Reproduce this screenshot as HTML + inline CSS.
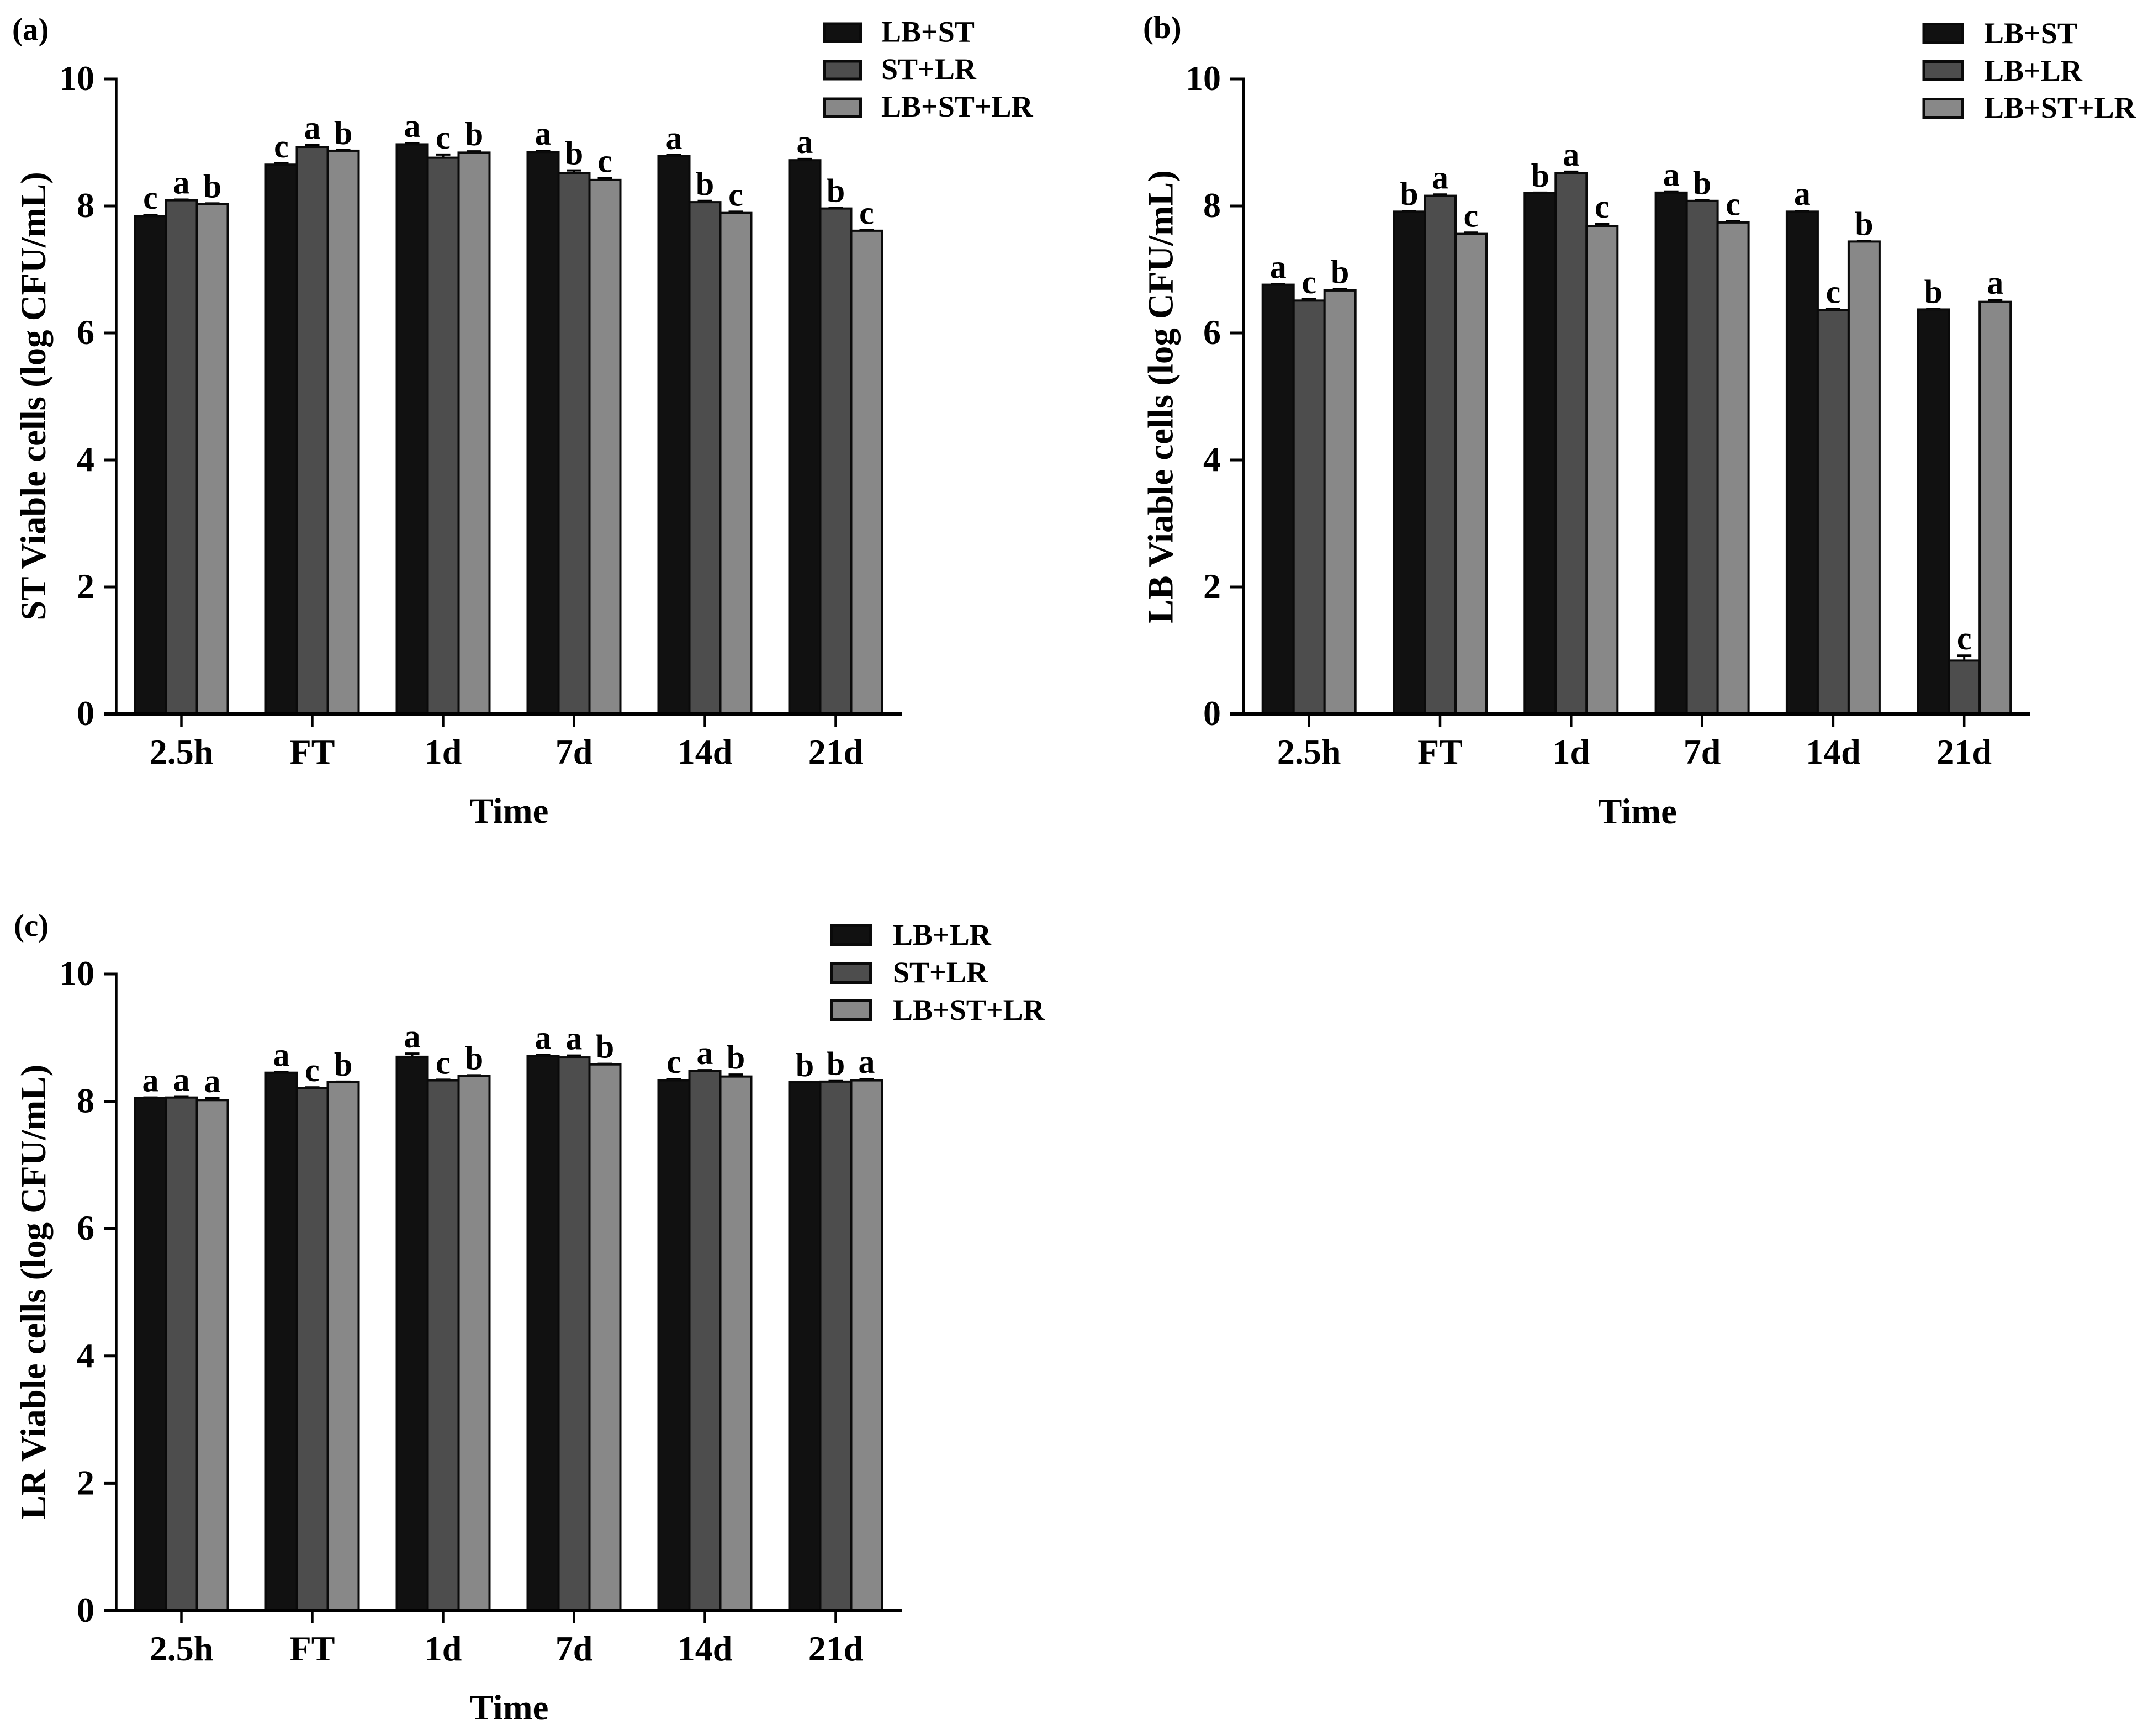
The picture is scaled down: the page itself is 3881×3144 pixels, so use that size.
<!DOCTYPE html>
<html lang="en">
<head>
<meta charset="utf-8">
<title>Viable cell counts over time</title>
<style>
html,body{margin:0;padding:0;background:#fff;}
svg{display:block;}
text{font-family:"Liberation Serif",serif;font-weight:bold;fill:#000;}
.panel-tag{font-size:57px;}
.axis-title{font-size:64.8px;text-anchor:middle;}
.legend-text{font-size:54px;}
.tick-text{font-size:64px;}
.sig{font-size:60px;text-anchor:middle;}
.sw{stroke:#0a0a0a;stroke-width:5;}
</style>
</head>
<body>
<svg id="figure" xmlns="http://www.w3.org/2000/svg" width="3881" height="3144" viewBox="0 0 3881 3144">
  <rect x="0" y="0" width="3881" height="3144" fill="#fff"/>

  <g id="panel-a">
    <text class="panel-tag" x="22" y="72">(a)</text>
    <text class="axis-title" transform="translate(82 717.5) rotate(-90)">ST Viable cells (log CFU/mL)</text>
    <text class="axis-title" x="922" y="1490">Time</text>
    <g>
      <rect class="sw" x="1493.5" y="43" width="65" height="32" fill="#111"/>
      <text class="legend-text" x="1596" y="75.5">LB+ST</text>
      <rect class="sw" x="1493.5" y="111" width="65" height="32" fill="#4d4d4d"/>
      <text class="legend-text" x="1596" y="143">ST+LR</text>
      <rect class="sw" x="1493.5" y="179" width="65" height="32" fill="#888"/>
      <text class="legend-text" x="1596" y="211">LB+ST+LR</text>
    </g>
  </g>

  <g id="panel-b">
    <text class="panel-tag" x="2070" y="69">(b)</text>
    <text class="axis-title" transform="translate(2123.5 718.5) rotate(-90)">LB Viable cells (log CFU/mL)</text>
    <text class="axis-title" x="2965.5" y="1491">Time</text>
    <g>
      <rect class="sw" x="3484" y="43.5" width="69.5" height="33" fill="#111"/>
      <text class="legend-text" x="3593" y="78">LB+ST</text>
      <rect class="sw" x="3484" y="111.5" width="69.5" height="33" fill="#4d4d4d"/>
      <text class="legend-text" x="3593" y="146">LB+LR</text>
      <rect class="sw" x="3484" y="179.5" width="69.5" height="33" fill="#888"/>
      <text class="legend-text" x="3593" y="213">LB+ST+LR</text>
    </g>
  </g>

  <g id="panel-c">
    <text class="panel-tag" x="25" y="1695">(c)</text>
    <text class="axis-title" transform="translate(82 2340) rotate(-90)">LR Viable cells (log CFU/mL)</text>
    <text class="axis-title" x="922" y="3114">Time</text>
    <g>
      <rect class="sw" x="1506.5" y="1676.5" width="70" height="34" fill="#111"/>
      <text class="legend-text" x="1617" y="1711">LB+LR</text>
      <rect class="sw" x="1506.5" y="1744.5" width="70" height="35" fill="#4d4d4d"/>
      <text class="legend-text" x="1617" y="1779">ST+LR</text>
      <rect class="sw" x="1506.5" y="1812.5" width="70" height="34" fill="#888"/>
      <text class="legend-text" x="1617" y="1847">LB+ST+LR</text>
    </g>
  </g>
</svg>

<script>
const categories = ['2.5h', 'FT', '1d', '7d', '14d', '21d'];
const yTickValues = [0, 2, 4, 6, 8, 10];

const seriesColors = ['#111111', '#4d4d4d', '#888888'];

const panelASeries1 = [7.84, 8.65, 8.97, 8.85, 8.79, 8.72];
const panelASeries2 = [8.09, 8.93, 8.76, 8.52, 8.06, 7.96];
const panelASeries3 = [8.03, 8.87, 8.84, 8.41, 7.89, 7.61];
const panelAErr1 = [0.02, 0.02, 0.02, 0.02, 0.01, 0.02];
const panelAErr2 = [0.01, 0.03, 0.05, 0.04, 0.02, 0.01];
const panelAErr3 = [0.01, 0.01, 0.02, 0.03, 0.02, 0.01];
const panelASig1 = ['c', 'c', 'a', 'a', 'a', 'a'];
const panelASig2 = ['a', 'a', 'c', 'b', 'b', 'b'];
const panelASig3 = ['b', 'b', 'b', 'c', 'c', 'c'];

const panelBSeries1 = [6.76, 7.91, 8.20, 8.21, 7.91, 6.37];
const panelBSeries2 = [6.51, 8.16, 8.52, 8.08, 6.36, 0.84];
const panelBSeries3 = [6.67, 7.56, 7.68, 7.74, 7.44, 6.49];
const panelBErr1 = [0.01, 0.01, 0.01, 0.01, 0.01, 0.01];
const panelBErr2 = [0.02, 0.02, 0.02, 0.01, 0.02, 0.08];
const panelBErr3 = [0.02, 0.02, 0.04, 0.02, 0.01, 0.03];
const panelBSig1 = ['a', 'b', 'b', 'a', 'a', 'b'];
const panelBSig2 = ['c', 'a', 'a', 'b', 'c', 'c'];
const panelBSig3 = ['b', 'c', 'c', 'c', 'b', 'a'];

const panelCSeries1 = [8.05, 8.45, 8.70, 8.71, 8.33, 8.30];
const panelCSeries2 = [8.06, 8.21, 8.33, 8.69, 8.48, 8.31];
const panelCSeries3 = [8.02, 8.30, 8.40, 8.58, 8.39, 8.33];
const panelCErr1 = [0.01, 0.01, 0.05, 0.02, 0.02, 0.00];
const panelCErr2 = [0.01, 0.01, 0.01, 0.03, 0.01, 0.01];
const panelCErr3 = [0.03, 0.01, 0.01, 0.01, 0.03, 0.02];
const panelCSig1 = ['a', 'a', 'a', 'a', 'c', 'b'];
const panelCSig2 = ['a', 'c', 'c', 'a', 'a', 'b'];
const panelCSig3 = ['a', 'b', 'b', 'b', 'b', 'a'];

const SVG_NS = 'http://www.w3.org/2000/svg';

function makeLine(parent, x1, y1, x2, y2, width) {
  const el = document.createElementNS(SVG_NS, 'line');
  el.setAttribute('x1', x1);
  el.setAttribute('y1', y1);
  el.setAttribute('x2', x2);
  el.setAttribute('y2', y2);
  el.setAttribute('stroke', '#000');
  el.setAttribute('stroke-width', width);
  parent.appendChild(el);
  return el;
}

function drawPanel(id, layout, seriesList, errList, sigList) {
  const root = document.getElementById(id);
  const yScale = v => layout.y0 - v * (layout.y0 - layout.y10) / 10;
  const xScale = i => layout.firstX + i * layout.pitch;
  const barWidth = 56;

  seriesList.forEach((values, s) => {
    values.forEach((v, i) => {
      const left = xScale(i) + (s - 1.5) * barWidth;
      const top = yScale(v);
      const cx = left + barWidth / 2;

      const errTop = yScale(v + errList[s][i]);
      const stem = makeLine(root, cx, top, cx, errTop, 4);
      
      
      const cap = makeLine(root, cx - 13, errTop, cx + 13, errTop, 4);
      
      

      const bar = document.createElementNS(SVG_NS, 'rect');
      bar.setAttribute('x', left);
      bar.setAttribute('y', top);
      bar.setAttribute('width', barWidth);
      bar.setAttribute('height', layout.y0 - top);
      bar.setAttribute('fill', seriesColors[s]);
      bar.setAttribute('stroke', '#0a0a0a');
      bar.setAttribute('stroke-width', 4);
      
      
      root.appendChild(bar);

      const sig = document.createElementNS(SVG_NS, 'text');
      sig.setAttribute('class', 'sig');
      sig.setAttribute('x', cx);
      sig.setAttribute('y', errTop - 11);
      sig.textContent = sigList[s][i];
      
      
      root.appendChild(sig);
    });
  });

  const yAxis = makeLine(root, layout.axisX, layout.y10 - 2.5, layout.axisX, layout.y0, 4.5);
  
  
  const xAxis = makeLine(root, layout.left, layout.y0, layout.right, layout.y0, 6);
  
  

  yTickValues.forEach(v => {
    const y = yScale(v);
    const tick = makeLine(root, layout.left, y, layout.axisX, y, 5);
    
    
    const label = document.createElementNS(SVG_NS, 'text');
    label.setAttribute('class', 'tick-text');
    label.setAttribute('text-anchor', 'end');
    label.setAttribute('x', layout.left - 17);
    label.setAttribute('y', y + 20);
    label.textContent = String(v);
    
    
    root.appendChild(label);
  });

  categories.forEach((c, i) => {
    const x = xScale(i);
    const tick = makeLine(root, x, layout.y0, x, layout.y0 + 23, 4.5);
    
    
    const label = document.createElementNS(SVG_NS, 'text');
    label.setAttribute('class', 'tick-text');
    label.setAttribute('text-anchor', 'middle');
    label.setAttribute('x', x);
    label.setAttribute('y', layout.y0 + 90);
    label.textContent = c;
    
    
    root.appendChild(label);
  });
}

drawPanel('panel-a',
  {axisX: 210.5, left: 188, right: 1634, firstX: 328.5, pitch: 237, y0: 1293, y10: 143},
  [panelASeries1, panelASeries2, panelASeries3],
  [panelAErr1, panelAErr2, panelAErr3],
  [panelASig1, panelASig2, panelASig3]);

drawPanel('panel-b',
  {axisX: 2252, left: 2228, right: 3677, firstX: 2370.7, pitch: 237.3, y0: 1293, y10: 143},
  [panelBSeries1, panelBSeries2, panelBSeries3],
  [panelBErr1, panelBErr2, panelBErr3],
  [panelBSig1, panelBSig2, panelBSig3]);

drawPanel('panel-c',
  {axisX: 210.5, left: 188, right: 1634, firstX: 328.5, pitch: 237, y0: 2917, y10: 1764},
  [panelCSeries1, panelCSeries2, panelCSeries3],
  [panelCErr1, panelCErr2, panelCErr3],
  [panelCSig1, panelCSig2, panelCSig3]);
</script>
</body>
</html>
